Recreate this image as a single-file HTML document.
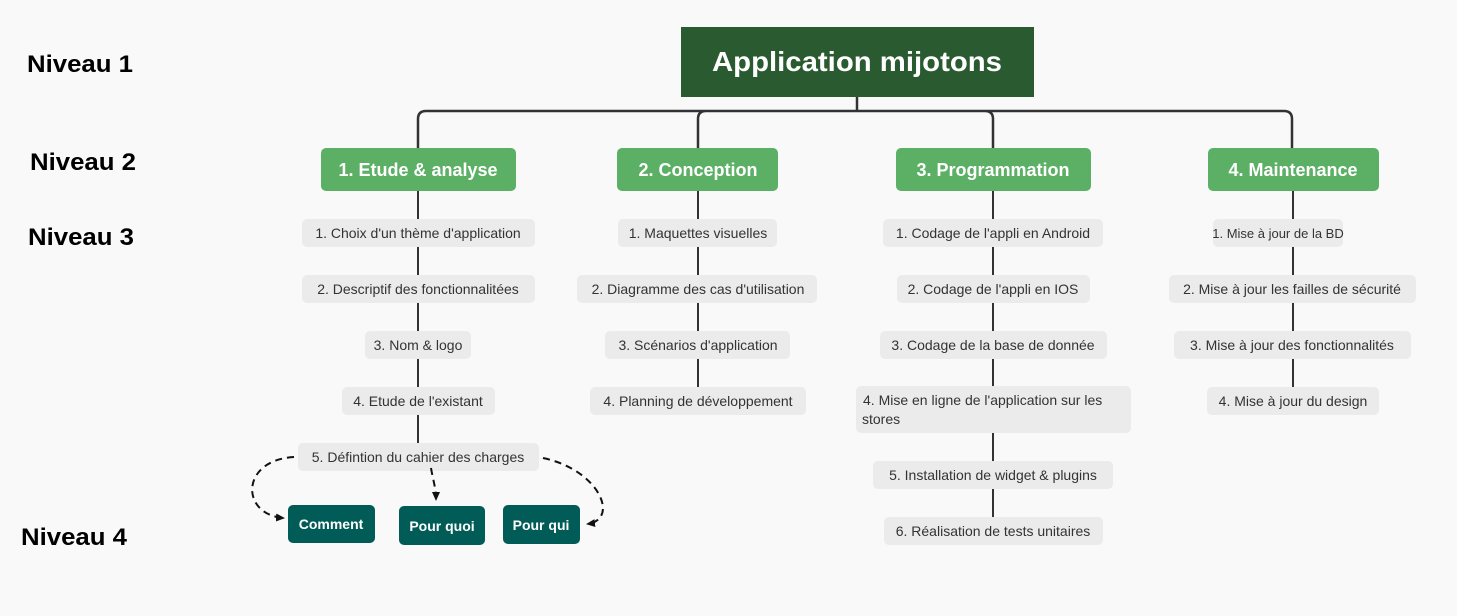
<!DOCTYPE html>
<html><head><meta charset="utf-8"><style>
html,body{margin:0;padding:0;background:#f9f9f9;}
svg{display:block;font-family:"Liberation Sans",sans-serif;}
.it{fill:#ebebeb;}
.tx{font-size:14px;fill:#333;}
.l2{fill:#5cb065;}
.l2t{font-size:18px;font-weight:bold;fill:#fff;}
.l4{fill:#015b57;}
.l4t{font-size:14px;font-weight:bold;fill:#fff;}
.nv{font-size:24px;font-weight:bold;fill:#000;}
.ln{stroke:#333;stroke-width:2.5;fill:none;}
.dl{stroke:#111;stroke-width:2;fill:none;stroke-dasharray:7 5;}
</style></head><body>
<svg width="1457" height="616" viewBox="0 0 1457 616">
<defs><marker id="a" markerUnits="userSpaceOnUse" markerWidth="10" markerHeight="10" refX="8" refY="4" orient="auto"><path d="M0,0 L9,4 L0,8 Z" fill="#111"/></marker></defs>
<text class="nv" x="27" y="72" textLength="106" lengthAdjust="spacingAndGlyphs">Niveau 1</text>
<text class="nv" x="30" y="170" textLength="106" lengthAdjust="spacingAndGlyphs">Niveau 2</text>
<text class="nv" x="28" y="245" textLength="106" lengthAdjust="spacingAndGlyphs">Niveau 3</text>
<text class="nv" x="21" y="545" textLength="106" lengthAdjust="spacingAndGlyphs">Niveau 4</text>

<rect x="681" y="27" width="353" height="70" fill="#2a5a2f"/>
<text x="712" y="71" font-size="28" font-weight="bold" fill="#fff" textLength="290" lengthAdjust="spacingAndGlyphs">Application mijotons</text>

<path class="ln" d="M857,97 V111 M418,148 V119 Q418,111 426,111 H1284 Q1292,111 1292,119 V148 M698,148 V119 Q698,111 706,111 M993,148 V119 Q993,111 985,111"/>

<path class="ln" style="stroke-width:2" d="M418,191 V443 M698,191 V387 M993,191 V517 M1293,191 V387"/>

<rect class="l2" x="321" y="148" width="195" height="43" rx="5"/><text class="l2t" x="418" y="176" text-anchor="middle">1. Etude &amp; analyse</text>
<rect class="l2" x="617" y="148" width="161" height="43" rx="5"/><text class="l2t" x="698" y="176" text-anchor="middle">2. Conception</text>
<rect class="l2" x="896" y="148" width="195" height="43" rx="5"/><text class="l2t" x="993" y="176" text-anchor="middle">3. Programmation</text>
<rect class="l2" x="1208" y="148" width="171" height="43" rx="5"/><text class="l2t" x="1293" y="176" text-anchor="middle">4. Maintenance</text>

<rect class="it" x="302" y="219" width="233" height="28" rx="5"/><text class="tx" x="418" y="238" text-anchor="middle">1. Choix d'un thème d'application</text>
<rect class="it" x="302" y="275" width="233" height="28" rx="5"/><text class="tx" x="418" y="294" text-anchor="middle">2. Descriptif des fonctionnalitées</text>
<rect class="it" x="365" y="331" width="106" height="28" rx="5"/><text class="tx" x="418" y="350" text-anchor="middle">3. Nom &amp; logo</text>
<rect class="it" x="342" y="387" width="153" height="28" rx="5"/><text class="tx" x="418" y="406" text-anchor="middle">4. Etude de l'existant</text>
<rect class="it" x="298" y="443" width="241" height="28" rx="5"/><text class="tx" x="418" y="462" text-anchor="middle">5. Défintion du cahier des charges</text>

<rect class="it" x="618" y="219" width="159" height="28" rx="5"/><text class="tx" x="698" y="238" text-anchor="middle">1. Maquettes visuelles</text>
<rect class="it" x="577" y="275" width="240" height="28" rx="5"/><text class="tx" x="698" y="294" text-anchor="middle">2. Diagramme des cas d'utilisation</text>
<rect class="it" x="605" y="331" width="185" height="28" rx="5"/><text class="tx" x="698" y="350" text-anchor="middle">3. Scénarios d'application</text>
<rect class="it" x="590" y="387" width="216" height="28" rx="5"/><text class="tx" x="698" y="406" text-anchor="middle">4. Planning de développement</text>

<rect class="it" x="883" y="219" width="220" height="28" rx="5"/><text class="tx" x="993" y="238" text-anchor="middle">1. Codage de l'appli en Android</text>
<rect class="it" x="897" y="275" width="193" height="28" rx="5"/><text class="tx" x="993" y="294" text-anchor="middle">2. Codage de l'appli en IOS</text>
<rect class="it" x="880" y="331" width="227" height="28" rx="5"/><text class="tx" x="993" y="350" text-anchor="middle">3. Codage de la base de donnée</text>
<rect class="it" x="856" y="386" width="275" height="47" rx="5"/><text class="tx" x="863" y="405">4. Mise en ligne de l'application sur les</text><text class="tx" x="862" y="424">stores</text>
<rect class="it" x="873" y="461" width="240" height="28" rx="5"/><text class="tx" x="993" y="480" text-anchor="middle">5. Installation de widget &amp; plugins</text>
<rect class="it" x="884" y="517" width="219" height="28" rx="5"/><text class="tx" x="993" y="536" text-anchor="middle">6. Réalisation de tests unitaires</text>

<rect class="it" x="1213" y="219" width="130" height="28" rx="5"/><text class="tx" x="1278" y="238" text-anchor="middle" style="font-size:13px">1. Mise à jour de la BD</text>
<rect class="it" x="1169" y="275" width="247" height="28" rx="5"/><text class="tx" x="1292" y="294" text-anchor="middle">2. Mise à jour les failles de sécurité</text>
<rect class="it" x="1174" y="331" width="237" height="28" rx="5"/><text class="tx" x="1292" y="350" text-anchor="middle">3. Mise à jour des fonctionnalités</text>
<rect class="it" x="1207" y="387" width="172" height="28" rx="5"/><text class="tx" x="1293" y="406" text-anchor="middle">4. Mise à jour du design</text>

<path class="dl" marker-end="url(#a)" d="M294,457 C240,460 240,515 284,518"/>
<path class="dl" marker-end="url(#a)" d="M431,468 C433,480 436,488 436,500"/>
<path class="dl" marker-end="url(#a)" d="M543,458 C600,470 620,520 587,524"/>
<rect class="l4" x="288" y="505" width="87" height="38" rx="5"/><text class="l4t" x="331" y="529" text-anchor="middle">Comment</text>
<rect class="l4" x="399" y="506" width="86" height="39" rx="5"/><text class="l4t" x="442" y="531" text-anchor="middle">Pour quoi</text>
<rect class="l4" x="503" y="505" width="77" height="39" rx="5"/><text class="l4t" x="541" y="530" text-anchor="middle">Pour qui</text>
</svg>
</body></html>
